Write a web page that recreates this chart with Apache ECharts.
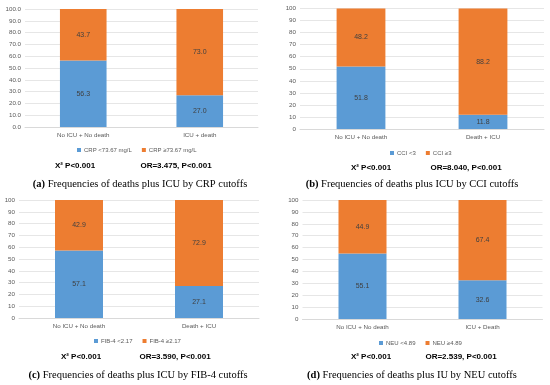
<!DOCTYPE html>
<html><head><meta charset="utf-8">
<script src="https://cdn.jsdelivr.net/npm/echarts@6/dist/echarts.min.js"></script>
<style>html,body{margin:0;padding:0;background:#fff}#c{width:550px;height:385px}</style>
</head><body><div id="c"></div>
<script>
// Data
const catsA = ['No ICU + No death', 'ICU + death'];
const catsB = ['No ICU + No death', 'Death + ICU'];
const catsC = ['No ICU + No death', 'Death + ICU'];
const catsD = ['No ICU + No death', 'ICU + Death'];
const lowA = [56.3, 27.0], highA = [43.7, 73.0];
const lowB = [51.8, 11.8], highB = [48.2, 88.2];
const lowC = [57.1, 27.1], highC = [42.9, 72.9];
const lowD = [55.1, 32.6], highD = [44.9, 67.4];
const namesA = ['CRP <73.67 mg/L', 'CRP \u226573.67 mg/L'];
const namesB = ['CCI <3', 'CCI \u22653'];
const namesC = ['FIB-4 <2.17', 'FIB-4 \u22652.17'];
const namesD = ['NEU <4.89', 'NEU \u22654.89'];
const statsA = ['X\u00B2 P<0.001', 'OR=3.475, P<0.001'];
const statsB = ['X\u00B2 P<0.001', 'OR=8.040, P<0.001'];
const statsC = ['X\u00B2 P<0.001', 'OR=3.590, P<0.001'];
const statsD = ['X\u00B2 P<0.001', 'OR=2.539, P<0.001'];
const capA = ['a', 'Frequencies of deaths plus ICU by CRP cutoffs'];
const capB = ['b', 'Frequencies of deaths plus ICU by CCI cutoffs'];
const capC = ['c', 'Frequencies of deaths plus ICU by FIB-4 cutoffs'];
const capD = ['d', 'Frequencies of deaths plus IU by NEU cutoffs'];

const BLUE = '#5B9BD5', ORANGE = '#ED7D31';
const SANS = "'Liberation Sans', Arial, sans-serif";
const SERIF = "'Liberation Serif', 'DejaVu Serif', serif";

const panels = [
  {cats: catsA, low: lowA, high: highA, names: namesA, stats: statsA, cap: capA, dec: true,
   grid: {left: 25, top: 9, width: 233, height: 118}, legendTop: 147, legendLeft: 77,
   statsY: 166, statsX: [75, 176], capX: 140, capY: 184},
  {cats: catsB, low: lowB, high: highB, names: namesB, stats: statsB, cap: capB, dec: false,
   grid: {left: 300, top: 8.5, width: 244, height: 120.5}, legendTop: 150, legendLeft: 390,
   statsY: 168, statsX: [371, 466], capX: 412, capY: 184},
  {cats: catsC, low: lowC, high: highC, names: namesC, stats: statsC, cap: capC, dec: false,
   grid: {left: 19, top: 200, width: 240, height: 118}, legendTop: 338, legendLeft: 94,
   statsY: 357, statsX: [81, 175], capX: 138, capY: 375},
  {cats: catsD, low: lowD, high: highD, names: namesD, stats: statsD, cap: capD, dec: false,
   grid: {left: 302.5, top: 200, width: 240, height: 119}, legendTop: 340, legendLeft: 379,
   statsY: 357, statsX: [371, 461], capX: 412, capY: 375}
];

const grid = [], xAxis = [], yAxis = [], series = [], legend = [], graphic = [];
panels.forEach((p, i) => {
  grid.push(Object.assign({containLabel: false}, p.grid));
  xAxis.push({type: 'category', gridIndex: i, data: p.cats,
    axisLine: {lineStyle: {color: '#d9d9d9'}}, axisTick: {show: false},
    axisLabel: {color: '#595959', fontSize: 6.2, fontFamily: SANS, margin: 5}});
  yAxis.push({type: 'value', gridIndex: i, min: 0, max: 100, interval: 10,
    axisLine: {show: false}, axisTick: {show: false},
    splitLine: {lineStyle: {color: '#e6e6e6', width: 1}},
    axisLabel: {color: '#595959', fontSize: 6.2, fontFamily: SANS, margin: 4,
      formatter: v => p.dec ? v.toFixed(1) : String(v)}});
  const lbl = {show: true, color: '#404040', fontSize: 7, fontFamily: SANS,
    formatter: o => o.value.toFixed(1)};
  series.push({name: p.names[0], type: 'bar', stack: 's' + i, xAxisIndex: i, yAxisIndex: i,
    data: p.low, barWidth: '40%', itemStyle: {color: BLUE}, label: lbl});
  series.push({name: p.names[1], type: 'bar', stack: 's' + i, xAxisIndex: i, yAxisIndex: i,
    data: p.high, barWidth: '40%', itemStyle: {color: ORANGE}, label: lbl});
  legend.push({data: p.names, left: p.legendLeft, top: p.legendTop, itemWidth: 4, itemHeight: 4,
    itemGap: 10, icon: 'rect', textStyle: {color: '#595959', fontSize: 6, fontFamily: SANS, padding: [0, 0, 0, -2]},
    padding: 0, selectedMode: false});
  p.stats.forEach((s, k) => graphic.push({type: 'text', x: p.statsX[k], y: p.statsY,
    style: {text: s, font: 'bold 8px ' + SANS, fill: '#000', textAlign: 'center', textVerticalAlign: 'middle'}}));
  graphic.push({type: 'text', x: p.capX, y: p.capY,
    style: {text: '{b|(' + p.cap[0] + ')} ' + p.cap[1], textAlign: 'center', textVerticalAlign: 'middle',
      font: '10.5px ' + SERIF, fill: '#000',
      rich: {b: {fontWeight: 'bold', fontSize: 10.5, fontFamily: SERIF}}}});
});

const chart = echarts.init(document.getElementById('c'), null, {renderer: 'canvas'});
chart.setOption({animation: false, grid, xAxis, yAxis, series, legend, graphic});
</script></body></html>
